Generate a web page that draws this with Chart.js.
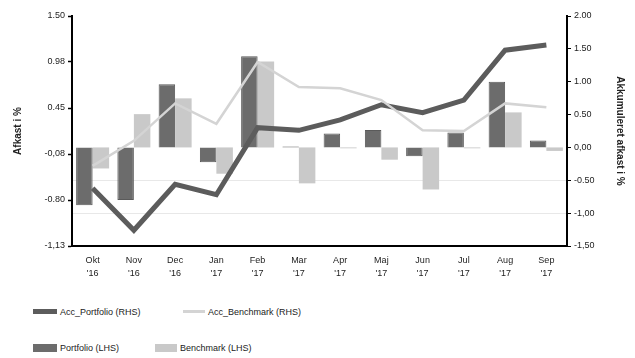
<!DOCTYPE html>
<html>
<head>
<meta charset="utf-8">
<script src="https://cdn.jsdelivr.net/npm/chart.js@4/dist/chart.umd.min.js"></script>
<style>
  html, body { margin: 0; padding: 0; background: #fff; }
  #wrap { position: relative; width: 635px; height: 358px; font-family: "Liberation Sans", Arial, sans-serif; }
  #chart { position: absolute; left: 0; top: 0; }
  .lg { position: absolute; font-size: 9px; color: #222; white-space: nowrap; line-height: 10px; }
  .sw { position: absolute; }
</style>
</head>
<body>
<div id="wrap">
  <canvas id="chart" width="635" height="285"></canvas>
  <div id="legend"></div>
</div>
<script>
// Monthly returns (left axis) and accumulated returns (right axis), in percent
const categories = [
  ['Okt', "'16"], ['Nov', "'16"], ['Dec', "'16"], ['Jan', "'17"],
  ['Feb', "'17"], ['Mar', "'17"], ['Apr', "'17"], ['Maj', "'17"],
  ['Jun', "'17"], ['Jul', "'17"], ['Aug', "'17"], ['Sep', "'17"]
];
const portfolio    = [-0.66, -0.60, 0.72, -0.17, 1.04, 0.01, 0.16, 0.20, -0.10, 0.17, 0.75, 0.08];
const benchmark    = [-0.24, 0.38, 0.56, -0.30, 0.98, -0.41, -0.01, -0.14, -0.48, -0.01, 0.40, -0.04];
const accPortfolio = [-0.62, -1.26, -0.56, -0.72, 0.30, 0.26, 0.42, 0.65, 0.53, 0.72, 1.48, 1.56];
const accBenchmark = [-0.28, 0.10, 0.67, 0.36, 1.30, 0.92, 0.90, 0.72, 0.26, 0.25, 0.67, 0.61];

// Axis ticks
const leftTickValues  = [-1.125, -0.6, -0.075, 0.45, 0.975, 1.5];
const leftTickLabels  = ['-1,13', '-0.80', '-0,08', '0.45', '0.98', '1.50'];
const rightTickValues = [-1.5, -1.0, -0.5, 0, 0.5, 1.0, 1.5, 2.0];
const rightTickLabels = ['-1,50', '-1,00', '-0.50', '0,00', '0.50', '1.00', '1.50', '2.00'];

const DARK = '#5c5c5c';
const BAR_DARK = '#6c6c6c';
const BAR_LIGHT = '#c9c9c9';
const LINE_LIGHT = '#d4d4d4';

const tickFont = { family: '"Liberation Sans", Arial, sans-serif', size: 9 };

const ctx = document.getElementById('chart').getContext('2d');
new Chart(ctx, {
  type: 'bar',
  data: {
    labels: categories,
    datasets: [
      { type: 'line', label: 'Acc_Portfolio (RHS)', data: accPortfolio, yAxisID: 'yR',
        borderColor: DARK, borderWidth: 5, pointRadius: 0, tension: 0, order: 1,
        borderJoinStyle: 'miter', borderCapStyle: 'butt' },
      { type: 'line', label: 'Acc_Benchmark (RHS)', data: accBenchmark, yAxisID: 'yR',
        borderColor: LINE_LIGHT, borderWidth: 2.5, pointRadius: 0, tension: 0, order: 0 },
      { label: 'Portfolio (LHS)', data: portfolio, yAxisID: 'yL',
        backgroundColor: BAR_DARK, borderColor: '#5a5a5a', borderWidth: 1,
        barPercentage: 1.0, categoryPercentage: 0.8, order: 2 },
      { label: 'Benchmark (LHS)', data: benchmark, yAxisID: 'yL',
        backgroundColor: BAR_LIGHT, borderWidth: 0,
        barPercentage: 1.0, categoryPercentage: 0.8, order: 3 }
    ]
  },
  options: {
    responsive: false,
    animation: false,
    devicePixelRatio: 1,
    layout: { padding: { top: 16, left: 0, right: 0, bottom: 0 } },
    plugins: { legend: { display: false }, tooltip: { enabled: false } },
    scales: {
      x: {
        offset: true,
        grid: { display: false, drawTicks: true, tickLength: 4, color: '#000' },
        border: { display: true, color: '#000', width: 2 },
        ticks: { color: '#222', font: { ...tickFont, lineHeight: 1.45 }, maxRotation: 0, autoSkip: false, padding: 4 },
        afterFit(scale) { scale.height = 285 - 246; }
      },
      yL: {
        position: 'left',
        min: -1.125, max: 1.5,
        afterBuildTicks(scale) { scale.ticks = leftTickValues.map(v => ({ value: v })); },
        ticks: {
          color: '#222', font: tickFont, padding: 3,
          callback: (v, i) => leftTickLabels[i]
        },
        grid: { display: true, drawOnChartArea: false, drawTicks: true, tickLength: 4, color: '#000', tickWidth: 1.5 },
        border: { display: true, color: '#000', width: 2 },
        title: { display: true, text: 'Afkast i %', color: '#222',
          font: { family: '"Liberation Sans", Arial, sans-serif', size: 10, weight: 'bold' },
          padding: { top: 12, bottom: 0 } },
        afterFit(scale) { scale.width = 72; }
      },
      yR: {
        position: 'right',
        min: -1.5, max: 2.0,
        afterBuildTicks(scale) { scale.ticks = rightTickValues.map(v => ({ value: v })); },
        ticks: {
          color: '#222', font: tickFont, padding: 3,
          callback: (v, i) => rightTickLabels[i]
        },
        grid: {
          drawOnChartArea: true, drawTicks: true, tickLength: 4, tickColor: '#000',
          color: (c) => (c.tick && c.tick.value < 0 ? '#e8e8e8' : 'rgba(0,0,0,0)')
        },
        border: { display: true, color: '#000', width: 2 },
        title: { display: true, text: 'Akkumuleret afkast i %', color: '#222',
          font: { family: '"Liberation Sans", Arial, sans-serif', size: 10, weight: 'bold' },
          padding: { top: 9, bottom: 0 } },
        afterFit(scale) { scale.width = 635 - 567; }
      }
    }
  }
});

// Legend: two rows, built from the series names and colours
const legendItems = [
  { text: 'Acc_Portfolio (RHS)', color: DARK,      x: 33,  y: 309, w: 24, h: 5 },
  { text: 'Acc_Benchmark (RHS)', color: LINE_LIGHT, x: 183, y: 310, w: 22, h: 3 },
  { text: 'Portfolio (LHS)',     color: BAR_DARK,  x: 33,  y: 344, w: 24, h: 8 },
  { text: 'Benchmark (LHS)',     color: BAR_LIGHT, x: 155, y: 344, w: 22, h: 8 }
];
const legend = document.getElementById('legend');
legendItems.forEach(it => {
  const sw = document.createElement('div');
  sw.className = 'sw';
  sw.style.left = it.x + 'px';
  sw.style.top = it.y + 'px';
  sw.style.width = it.w + 'px';
  sw.style.height = it.h + 'px';
  sw.style.background = it.color;
  legend.appendChild(sw);
  const t = document.createElement('div');
  t.className = 'lg';
  t.textContent = it.text;
  t.style.left = (it.x + it.w + 3) + 'px';
  t.style.top = (it.y + it.h / 2 - 5) + 'px';
  legend.appendChild(t);
});
</script>
</body>
</html>
